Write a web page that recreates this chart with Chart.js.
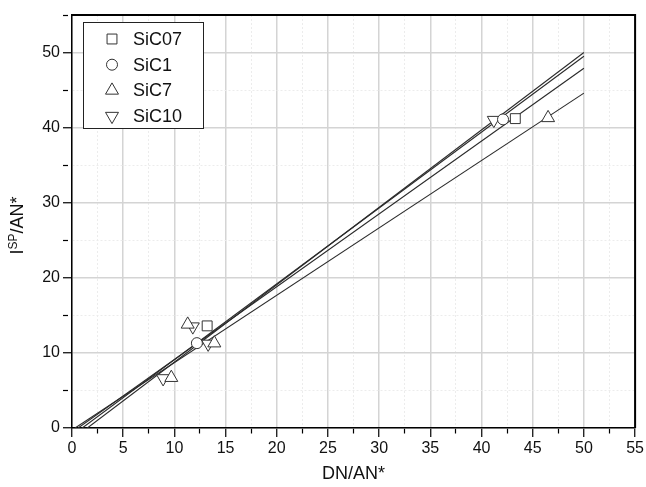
<!DOCTYPE html>
<html>
<head>
<meta charset="utf-8">
<script src="https://cdn.jsdelivr.net/npm/chart.js@4/dist/chart.umd.min.js"></script>
<style>
  html, body { margin: 0; padding: 0; background: #fff; }
  #wrap { width: 646px; height: 487px; }
</style>
</head>
<body>
<div id="wrap"><canvas id="grafico"></canvas></div>
<script>
// series names and markers
const series = ['SiC07', 'SiC1', 'SiC7', 'SiC10'];

const sic07X = [13.2, 43.3];
const sic07Y = [13.6, 41.2];
const sic1X = [12.2, 42.1];
const sic1Y = [11.3, 41.1];
const sic7X = [9.7, 11.3, 13.9, 46.5];
const sic7Y = [6.7, 13.8, 11.3, 41.3];
const sic10X = [8.9, 11.8, 13.3, 41.2];
const sic10Y = [6.6, 13.5, 11.2, 41.0];

// fitted lines: start and end of each
const fitX = [[0.6, 50], [1.0, 50], [0.3, 50], [1.5, 50]];
const fitY = [[0, 47.9], [0, 49.5], [0, 44.6], [0, 50.0]];

// axis ticks
const xTickLabels = [0, 5, 10, 15, 20, 25, 30, 35, 40, 45, 50, 55];
const yTickLabels = [0, 10, 20, 30, 40, 50];

const marcadores = [
  { pointStyle: 'rect', radius: 7, rotation: 0 },
  { pointStyle: 'circle', radius: 5.5, rotation: 0 },
  { pointStyle: 'triangle', radius: 7.5, rotation: 0 },
  { pointStyle: 'triangle', radius: 7.5, rotation: 180 }
];

const pontos = [[sic07X, sic07Y], [sic1X, sic1Y], [sic7X, sic7Y], [sic10X, sic10Y]];
const corMarca = '#333';

function junta(xs, ys) {
  return xs.map((x, i) => ({ x: x, y: ys[i] }));
}

const datasets = [];
series.forEach((nome, i) => {
  datasets.push({
    type: 'scatter',
    label: nome,
    data: junta(pontos[i][0], pontos[i][1]),
    pointStyle: marcadores[i].pointStyle,
    pointRadius: marcadores[i].radius,
    pointRotation: marcadores[i].rotation,
    pointBorderColor: corMarca,
    pointBackgroundColor: '#fff',
    pointBorderWidth: 1,
    order: 0
  });
});
series.forEach((nome, i) => {
  datasets.push({
    type: 'line',
    label: nome + ' fit',
    data: junta(fitX[i], fitY[i]),
    borderColor: '#2a2a2a',
    borderWidth: 1.1,
    pointRadius: 0,
    fill: false,
    order: 1
  });
});

const fonte = 'Liberation Sans, Arial, Helvetica, sans-serif';

// frame on top and right, legend box, y title with superscript
const extras = {
  id: 'extras',
  afterDraw(chart) {
    const ctx = chart.ctx;
    const a = chart.chartArea;
    ctx.save();
    ctx.strokeStyle = '#000';
    ctx.lineWidth = 2;
    ctx.beginPath();
    ctx.moveTo(a.left, a.top);
    ctx.lineTo(a.right, a.top);
    ctx.lineTo(a.right, a.bottom);
    ctx.stroke();

    // legend
    const bx = a.left + 11, by = a.top + 7, bw = 120, bh = 106;
    ctx.fillStyle = '#fff';
    ctx.fillRect(bx, by, bw, bh);
    ctx.strokeStyle = '#222';
    ctx.lineWidth = 1;
    ctx.strokeRect(bx + 0.5, by + 0.5, bw, bh);
    ctx.font = '18px ' + fonte;
    ctx.textBaseline = 'middle';
    series.forEach((nome, i) => {
      const yy = by + 17 + i * 25.7;
      const m = marcadores[i];
      ctx.strokeStyle = corMarca;
      ctx.fillStyle = '#fff';
      ctx.lineWidth = 1;
      if (Chart.helpers && Chart.helpers.drawPoint) {
        Chart.helpers.drawPoint(ctx, { pointStyle: m.pointStyle, radius: m.radius, rotation: m.rotation, borderWidth: 1 }, bx + 29, yy);
      }
      ctx.fillStyle = '#111';
      ctx.fillText(nome, bx + 50, yy + 1);
    });

    // y axis title: I^SP/AN*
    ctx.translate(17, (a.top + a.bottom) / 2 + 4);
    ctx.rotate(-Math.PI / 2);
    ctx.fillStyle = '#111';
    ctx.textBaseline = 'alphabetic';
    const partes = [
      { t: 'I', f: '18px ' + fonte, dy: 0 },
      { t: 'SP', f: '12px ' + fonte, dy: -6 },
      { t: '/AN*', f: '18px ' + fonte, dy: 0 }
    ];
    let total = 0;
    partes.forEach(p => { ctx.font = p.f; total += ctx.measureText(p.t).width; });
    let px = -total / 2;
    partes.forEach(p => {
      ctx.font = p.f;
      ctx.fillText(p.t, px, 6 + p.dy);
      px += ctx.measureText(p.t).width;
    });
    ctx.restore();
  }
};

new Chart(document.getElementById('grafico'), {
  data: { datasets: datasets },
  options: {
    responsive: true,
    maintainAspectRatio: false,
    animation: false,
    devicePixelRatio: 1,
    layout: { padding: { top: 15, right: 10, left: 0, bottom: 0 } },
    plugins: {
      legend: { display: false },
      tooltip: { enabled: false }
    },
    scales: {
      x: {
        type: 'linear',
        min: 0,
        max: 55,
        afterFit: s => { s.height = 59; },
        ticks: {
          stepSize: 2.5,
          autoSkip: false,
          maxRotation: 0,
          padding: 2,
          color: '#111',
          font: { family: fonte, size: 16 },
          callback: v => xTickLabels.includes(v) ? String(v) : ''
        },
        grid: {
          color: c => (c.tick && c.tick.value % 5 === 0) ? '#d4d4d4' : '#ececec',
          lineWidth: c => (c.tick && c.tick.value % 5 === 0) ? 1.5 : 1,
          tickColor: '#000',
          tickLength: 9,
          tickWidth: 1.2,
          tickBorderDash: c => (c.tick && c.tick.value % 5 === 0) ? [] : [5, 30]
        },
        border: {
          color: '#000',
          width: 1.5,
          dash: c => (c.tick && c.tick.value % 5 !== 0) ? [2, 2] : []
        },
        title: {
          display: true,
          text: 'DN/AN*',
          color: '#111',
          font: { family: fonte, size: 18 },
          padding: { top: 0, bottom: 2 }
        }
      },
      y: {
        type: 'linear',
        min: 0,
        max: 55,
        afterFit: s => { s.width = 72; },
        ticks: {
          stepSize: 5,
          autoSkip: false,
          padding: 3,
          color: '#111',
          font: { family: fonte, size: 16 },
          callback: v => yTickLabels.includes(v) ? String(v) : ''
        },
        grid: {
          color: c => (c.tick && c.tick.value % 10 === 0) ? '#d4d4d4' : '#ececec',
          lineWidth: c => (c.tick && c.tick.value % 10 === 0) ? 1.5 : 1,
          tickColor: '#000',
          tickLength: 9,
          tickWidth: 1.2,
          tickBorderDash: c => (c.tick && c.tick.value % 10 === 0) ? [] : [5, 30]
        },
        border: {
          color: '#000',
          width: 1.5,
          dash: c => (c.tick && c.tick.value % 10 !== 0) ? [2, 2] : []
        }
      }
    }
  },
  plugins: [extras]
});
</script>
</body>
</html>
